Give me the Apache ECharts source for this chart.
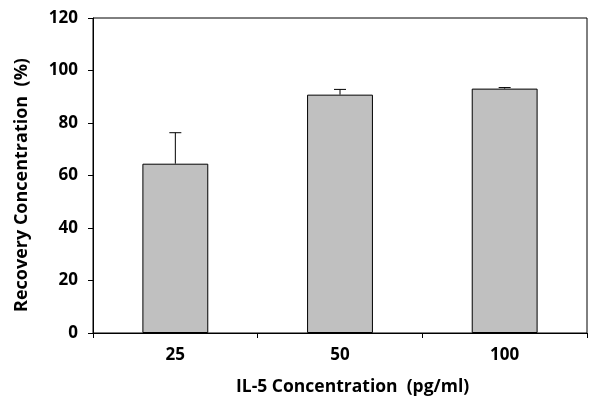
<!DOCTYPE html>
<html>
<head>
<meta charset="utf-8">
<script src="https://cdn.jsdelivr.net/npm/echarts@6/dist/echarts.min.js"></script>
<style>
  html, body { margin: 0; padding: 0; background: #fff; }
  #chart { width: 602px; height: 414px; }
</style>
</head>
<body>
<div id="chart"></div>
<script>
// IL-5 spike recovery
const categories = ['25', '50', '100']
const recovery = [64.5, 90.8, 93.1]
const recoveryErr = [11.8, 2.0, 0.4] // upper error only

const fontFamily = '"Open Sans", "Noto Sans", sans-serif'

const chart = echarts.init(document.getElementById('chart'), null, { renderer: 'canvas' })

// draw the upper half of each error bar with a small cap
function renderErr(params, api) {
  const i = api.value(0)
  const top = api.coord([i, api.value(1) + api.value(2)])
  const base = api.coord([i, api.value(1)])
  const cap = 6
  return {
    type: 'group',
    children: [
      { type: 'line', shape: { x1: base[0], y1: base[1], x2: top[0], y2: top[1] }, style: { stroke: '#000', lineWidth: 1 } },
      { type: 'line', shape: { x1: top[0] - cap, y1: top[1], x2: top[0] + cap, y2: top[1] }, style: { stroke: '#000', lineWidth: 1 } }
    ]
  }
}

chart.setOption({
  animation: false,
  grid: {
    left: 93,
    right: 15,
    top: 18,
    bottom: 81,
    show: true,
    borderColor: '#000',
    borderWidth: 1
  },
  xAxis: {
    type: 'category',
    data: categories,
    boundaryGap: true,
    axisLine: { lineStyle: { color: '#000', width: 1 } },
    axisTick: { show: true, length: 5, interval: 0, lineStyle: { color: '#000' } },
    axisLabel: { color: '#000', fontFamily, fontWeight: 'bold', fontSize: 17, margin: 14 }
  },
  yAxis: {
    type: 'value',
    min: 0,
    max: 120,
    interval: 20,
    splitLine: { show: false },
    axisLine: { show: true, lineStyle: { color: '#000', width: 1 } },
    axisTick: { show: true, length: 5, lineStyle: { color: '#000' } },
    axisLabel: { color: '#000', fontFamily, fontWeight: 'bold', fontSize: 17, margin: 15 }
  },
  graphic: [
    { // x axis title
      type: 'text',
      left: 236,
      top: 378,
      style: { text: 'IL-5 Concentration  (pg/ml)', fill: '#000', font: 'bold 17.5px ' + fontFamily }
    },
    { // y axis title
      type: 'text',
      x: 13,
      y: 312,
      rotation: Math.PI / 2,
      style: { text: 'Recovery Concentration  (%)', fill: '#000', font: 'bold 18px ' + fontFamily }
    }
  ],
  series: [
    {
      type: 'bar',
      data: recovery,
      barWidth: '40%',
      itemStyle: { color: '#c0c0c0', borderColor: '#000', borderWidth: 1 },
      z: 2
    },
    {
      type: 'custom',
      renderItem: renderErr,
      data: recovery.map((v, i) => [i, v, recoveryErr[i]]),
      encode: { x: 0, y: [1, 2] },
      z: 3
    }
  ]
})
</script>
</body>
</html>
